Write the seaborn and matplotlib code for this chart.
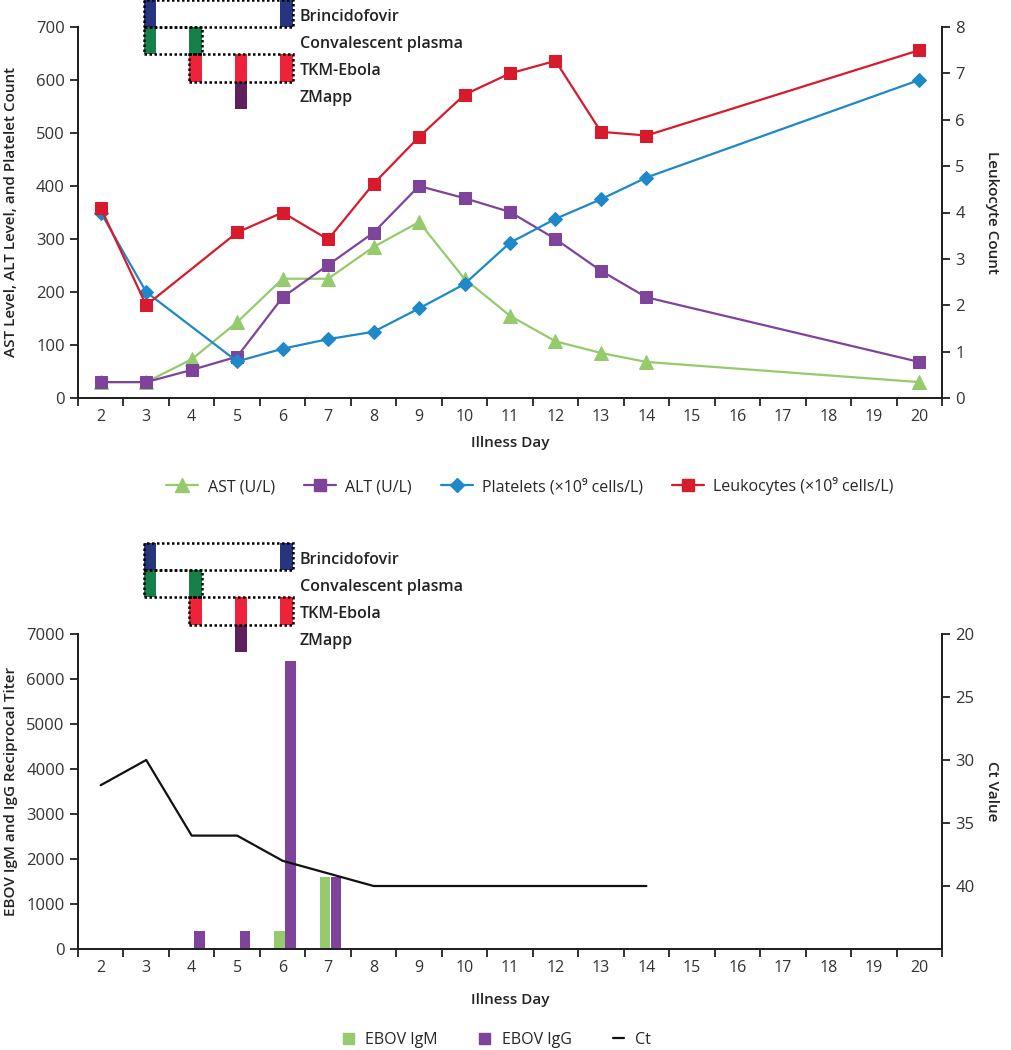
import numpy as np
import pandas as pd
import matplotlib
matplotlib.use("Agg")
import matplotlib.pyplot as plt
import seaborn as sns
from matplotlib.lines import Line2D
from matplotlib.patches import Rectangle, Patch
from matplotlib.transforms import blended_transform_factory

# Data
days = [2, 3, 4, 5, 6, 7, 8, 9, 10, 11, 12, 13, 14, 20]
ast = [30, 30, 73, 143, 225, 225, 285, 332, 225, 155, 107, 85, 68, 30]
alt = [30, 30, 53, 78, 190, 251, 312, 400, 377, 351, 300, 240, 190, 68]
platelets = [350, 200, None, 69, 93, 111, 125, 169, 215, 293, 338, 375, 416, 600]
leukocytes = [4.1, 2.0, None, 3.57, 4.0, 3.42, 4.62, 5.63, 6.54, 7.0, 7.27, 5.74, 5.66, 7.5]

ab_days = [4, 5, 6, 7]
igm = [0, 0, 400, 1600]
igg = [400, 400, 6400, 1600]
ct_days = [2, 3, 4, 5, 6, 7, 8, 9, 10, 11, 12, 13, 14]
ct = [32, 30, 36, 36, 38, 39, 40, 40, 40, 40, 40, 40, 40]

day_labels = list(range(2, 21))

treatments = ["Brincidofovir", "Convalescent plasma", "TKM-Ebola", "ZMapp"]
treatment_days = [[3, 6], [3, 4], [4, 5, 6], [5]]
treatment_colors = ["#27357F", "#16804A", "#EE2238", "#5F1F5C"]

c_ast = "#95CB6C"
c_alt = "#7E449B"
c_plt = "#1E88C8"
c_leu = "#D71A2C"
c_igm = "#95CB6C"
c_igg = "#7E449B"

sns.set_style("ticks")
plt.rcParams['font.family'] = ['Open Sans', 'DejaVu Sans']
plt.rcParams['axes.edgecolor'] = '#222222'
plt.rcParams['xtick.color'] = '#222222'
plt.rcParams['ytick.color'] = '#222222'
plt.rcParams['xtick.labelcolor'] = '#333333'
plt.rcParams['ytick.labelcolor'] = '#333333'

W, H = 1012, 1050
fig = plt.figure(figsize=(W / 100, H / 100), dpi=100)


def px_axes(left, top, right, bottom):
    return fig.add_axes([left / W, 1 - bottom / H, (right - left) / W, (bottom - top) / H])


def style_x(ax):
    ax.set_xlim(1.5, 20.5)
    ax.set_xticks(np.arange(1.5, 21, 1))
    ax.set_xticklabels([])
    ax.set_xticks(day_labels, minor=True)
    ax.set_xticklabels([str(d) for d in day_labels], minor=True)
    ax.tick_params(axis='x', which='major', length=6, width=1.3, direction='out')
    ax.tick_params(axis='x', which='minor', length=0, labelsize=11.5, pad=8)
    ax.set_xlabel("")


def draw_treatments(ax, top_px):
    tr = blended_transform_factory(ax.transData, fig.transFigure)
    row = 27.2
    for i, (name, tdays, col) in enumerate(zip(treatments, treatment_days, treatment_colors)):
        y0 = 1 - (top_px + (i + 1) * row) / H
        h = row / H
        for d in tdays:
            ax.add_patch(Rectangle((d - 0.055, y0), 0.28, h, transform=tr, color=col,
                                   clip_on=False, zorder=5, lw=0))
        if len(tdays) > 1:
            ax.add_patch(Rectangle((tdays[0] - 0.055, y0), tdays[-1] - tdays[0] + 0.28, h,
                                   transform=tr, fill=False, ec='black', ls=(0, (1, 1)),
                                   lw=1.8, clip_on=False, zorder=6))
        ax.text(6.38, y0 + h / 2 - 3 / H, name, transform=tr, ha='left', va='center',
                fontsize=11.5, fontweight='semibold', color='#222222')


# ---------------- Top panel ----------------
ax1 = px_axes(78, 27, 942, 398)
ax1r = ax1.twinx()

lab = pd.DataFrame({"day": days, "ast": ast, "alt": alt, "plt": platelets, "leu": leukocytes})
lab = lab.astype(float)

sns.lineplot(data=lab.dropna(subset=["ast"]), x="day", y="ast", ax=ax1, color=c_ast, marker="^",
             markersize=10, markeredgecolor=c_ast, linewidth=1.6, zorder=3)
sns.lineplot(data=lab.dropna(subset=["alt"]), x="day", y="alt", ax=ax1, color=c_alt, marker="s",
             markersize=9, markeredgecolor=c_alt, linewidth=1.6, zorder=3)
sns.lineplot(data=lab.dropna(subset=["plt"]), x="day", y="plt", ax=ax1, color=c_plt, marker="D",
             markersize=7, markeredgecolor=c_plt, linewidth=1.6, zorder=3)
sns.lineplot(data=lab.dropna(subset=["leu"]), x="day", y="leu", ax=ax1r, color=c_leu, marker="s",
             markersize=9, markeredgecolor=c_leu, linewidth=1.6, zorder=3)

ax1.set_ylim(0, 700)
ax1.set_yticks(range(0, 701, 100))
ax1r.set_ylim(0, 8)
ax1r.set_yticks(range(0, 9))
ax1.set_ylabel("")
ax1r.set_ylabel("")
style_x(ax1)
for a in (ax1, ax1r):
    a.spines['top'].set_visible(False)
    for s in a.spines.values():
        s.set_linewidth(1.4)
ax1.tick_params(axis='y', length=6, width=1.3, labelsize=12)
ax1r.tick_params(axis='y', length=6, width=1.3, labelsize=12)
draw_treatments(ax1, 0)

fig.text(11 / W, 1 - 212 / H, "AST Level, ALT Level, and Platelet Count", rotation=90,
         ha='center', va='center', fontsize=11, fontweight='semibold', color='#222222')
fig.text(992 / W, 1 - 212 / H, "Leukocyte Count", rotation=270,
         ha='center', va='center', fontsize=11, fontweight='semibold', color='#222222')
fig.text(510 / W, 1 - 443 / H, "Illness Day", ha='center', va='center',
         fontsize=11, fontweight='semibold', color='#222222')

h_top = [
    Line2D([], [], color=c_ast, marker="^", markersize=10, lw=1.6, label="AST (U/L)"),
    Line2D([], [], color=c_alt, marker="s", markersize=9, lw=1.6, label="ALT (U/L)"),
    Line2D([], [], color=c_plt, marker="D", markersize=7, lw=1.6,
           label="Platelets (\u00d710\u2079 cells/L)"),
    Line2D([], [], color=c_leu, marker="s", markersize=9, lw=1.6,
           label="Leukocytes (\u00d710\u2079 cells/L)"),
]
fig.legend(handles=h_top, loc='center', bbox_to_anchor=(530 / W, 1 - 486 / H), ncol=4,
           frameon=False, fontsize=11.5, handlelength=2.0, columnspacing=1.8, handletextpad=0.6)

# ---------------- Bottom panel ----------------
ax2 = px_axes(78, 634, 942, 949)
ax2r = ax2.twinx()

ab = pd.DataFrame({"day": ab_days, "igm": igm, "igg": igg})
ax2.bar(ab["day"] - 0.07, ab["igm"], width=0.23, color=c_igm, lw=0, zorder=2)
ax2.bar(ab["day"] + 0.17, ab["igg"], width=0.23, color=c_igg, lw=0, zorder=2)

ctdf = pd.DataFrame({"day": ct_days, "ct": ct})
sns.lineplot(data=ctdf, x="day", y="ct", ax=ax2r, color="#111111", linewidth=1.6)

ax2.set_ylim(0, 7000)
ax2.set_yticks(range(0, 7001, 1000))
ax2r.set_ylim(45, 20)
ax2r.set_yticks([20, 25, 30, 35, 40])
ax2.set_ylabel("")
ax2r.set_ylabel("")
style_x(ax2)
for a in (ax2, ax2r):
    a.spines['top'].set_visible(False)
    for s in a.spines.values():
        s.set_linewidth(1.4)
ax2.tick_params(axis='y', length=6, width=1.3, labelsize=12)
ax2r.tick_params(axis='y', length=6, width=1.3, labelsize=12)
draw_treatments(ax2, 543)

fig.text(11 / W, 1 - 791 / H, "EBOV IgM and IgG Reciprocal Titer", rotation=90,
         ha='center', va='center', fontsize=11, fontweight='semibold', color='#222222')
fig.text(992 / W, 1 - 791 / H, "Ct Value", rotation=270,
         ha='center', va='center', fontsize=11, fontweight='semibold', color='#222222')
fig.text(510 / W, 1 - 1000 / H, "Illness Day", ha='center', va='center',
         fontsize=11, fontweight='semibold', color='#222222')

h_bot = [
    Patch(color=c_igm, label="EBOV IgM"),
    Patch(color=c_igg, label="EBOV IgG"),
    Line2D([], [], color="#111111", lw=1.6, label="Ct"),
]
fig.legend(handles=h_bot, loc='center', bbox_to_anchor=(497 / W, 1 - 1040 / H), ncol=3,
           frameon=False, fontsize=11.5, handlelength=0.7, handleheight=0.7,
           columnspacing=2.6, handletextpad=0.7)

fig.savefig("out.png", dpi=100)
